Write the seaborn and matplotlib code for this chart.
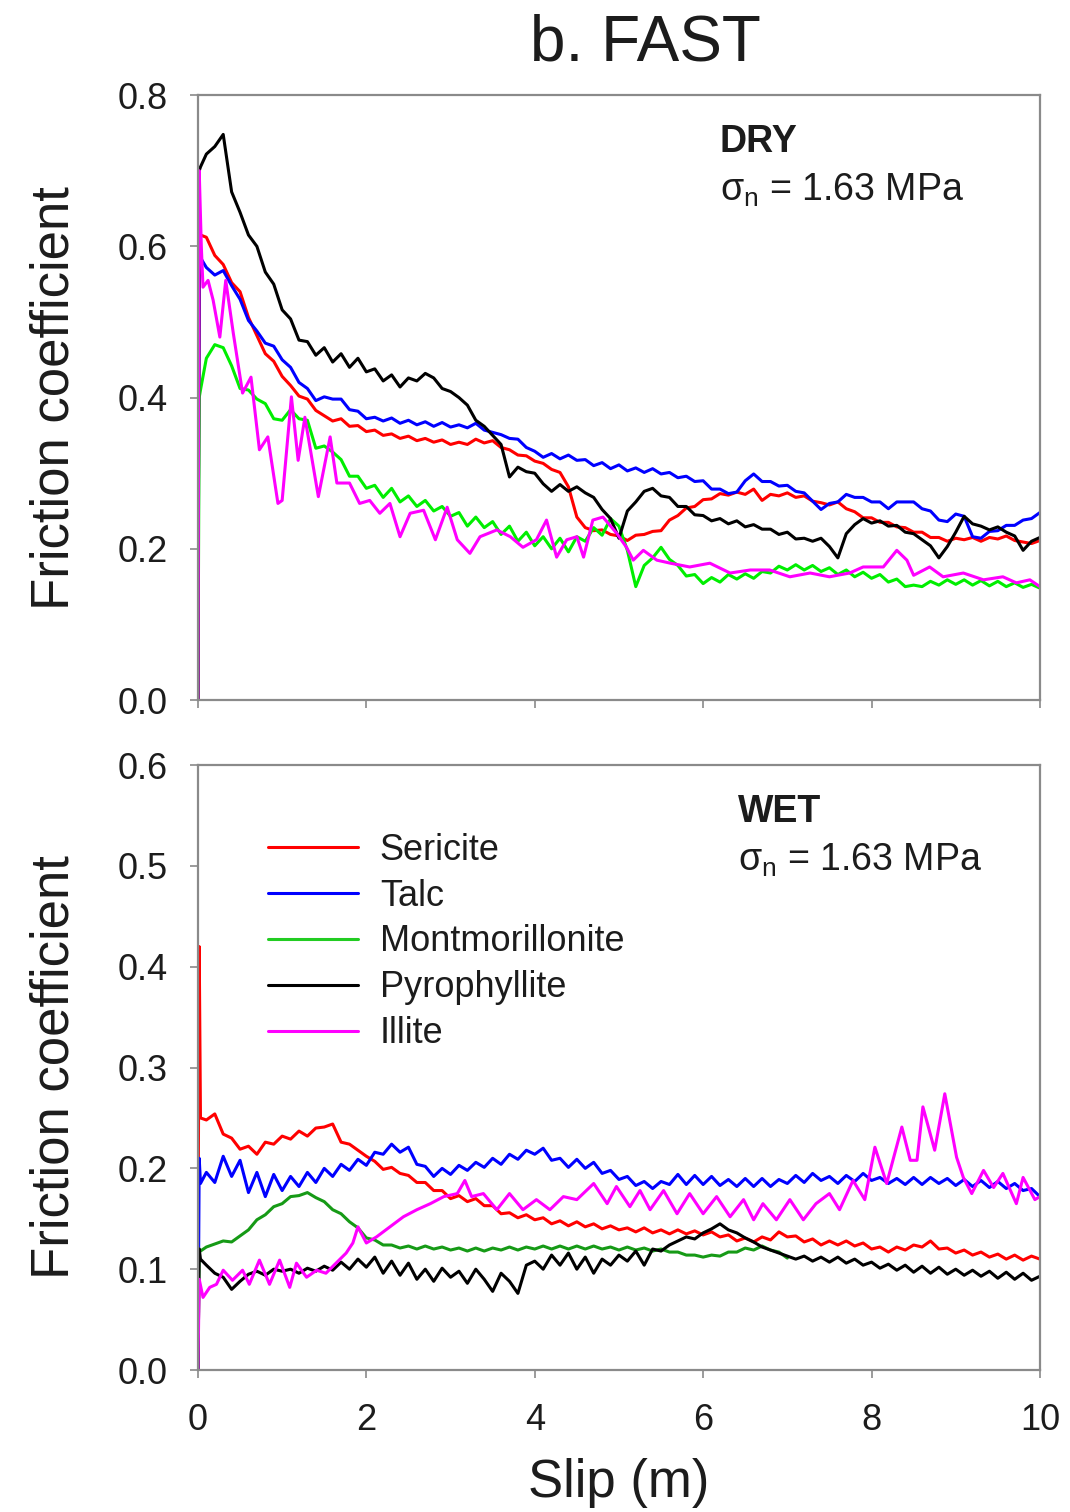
import numpy as np
import pandas as pd
import matplotlib
matplotlib.use("Agg")
import matplotlib.pyplot as plt
from matplotlib.lines import Line2D
from matplotlib.ticker import FormatStrFormatter
import seaborn as sns

# ---------------------------------------------------------------------------
# Data: friction coefficient vs. slip (m), fast slip tests
# ---------------------------------------------------------------------------
minerals = ["Sericite", "Talc", "Montmorillonite", "Pyrophyllite", "Illite"]

# shared slip grid for the densely sampled records
slip = [0.0, 0.015, 0.03] + [round(0.1 * i, 1) for i in range(1, 101)]

# ---- DRY, sigma_n = 1.63 MPa ----
dry_sericite = [
    0.0, 0.617, 0.615,
    0.612, 0.588, 0.576, 0.552, 0.540, 0.506, 0.482, 0.458, 0.448, 0.428,
    0.416, 0.402, 0.398, 0.383, 0.376, 0.369, 0.372, 0.362, 0.363, 0.355,
    0.357, 0.350, 0.352, 0.346, 0.349, 0.343, 0.346, 0.341, 0.344, 0.338,
    0.341, 0.338, 0.345, 0.340, 0.343, 0.334, 0.331, 0.324, 0.323, 0.316,
    0.313, 0.305, 0.301, 0.282, 0.242, 0.228, 0.224, 0.225, 0.219, 0.217,
    0.211, 0.218, 0.219, 0.223, 0.224, 0.238, 0.244, 0.254, 0.256, 0.265,
    0.266, 0.273, 0.271, 0.275, 0.272, 0.279, 0.264, 0.272, 0.270, 0.274,
    0.268, 0.270, 0.263, 0.261, 0.258, 0.262, 0.253, 0.249, 0.241, 0.241,
    0.235, 0.235, 0.229, 0.228, 0.222, 0.222, 0.215, 0.215, 0.210, 0.214,
    0.212, 0.215, 0.210, 0.215, 0.213, 0.217, 0.211, 0.209, 0.207, 0.211,
]
dry_talc = [
    0.0, 0.590, 0.585,
    0.572, 0.562, 0.568, 0.548, 0.530, 0.502, 0.488, 0.472, 0.468, 0.450,
    0.440, 0.420, 0.412, 0.396, 0.401, 0.398, 0.398, 0.384, 0.382, 0.372,
    0.374, 0.369, 0.373, 0.366, 0.370, 0.364, 0.368, 0.362, 0.367, 0.361,
    0.364, 0.360, 0.366, 0.357, 0.354, 0.351, 0.346, 0.345, 0.334, 0.329,
    0.321, 0.326, 0.319, 0.324, 0.317, 0.318, 0.310, 0.314, 0.306, 0.311,
    0.303, 0.307, 0.301, 0.306, 0.299, 0.301, 0.294, 0.296, 0.289, 0.290,
    0.279, 0.279, 0.273, 0.275, 0.290, 0.299, 0.289, 0.289, 0.283, 0.284,
    0.276, 0.274, 0.263, 0.252, 0.260, 0.262, 0.272, 0.268, 0.268, 0.262,
    0.262, 0.253, 0.262, 0.262, 0.262, 0.253, 0.250, 0.238, 0.236, 0.246,
    0.243, 0.216, 0.214, 0.223, 0.224, 0.231, 0.231, 0.238, 0.240, 0.248,
]
dry_montmorillonite = [
    0.0, 0.400, 0.410,
    0.452, 0.470, 0.466, 0.442, 0.412, 0.410, 0.398, 0.392, 0.372, 0.370,
    0.384, 0.372, 0.370, 0.333, 0.336, 0.328, 0.318, 0.296, 0.296, 0.280,
    0.284, 0.268, 0.280, 0.262, 0.270, 0.256, 0.264, 0.250, 0.256, 0.243,
    0.248, 0.230, 0.242, 0.228, 0.236, 0.219, 0.230, 0.210, 0.222, 0.204,
    0.216, 0.200, 0.214, 0.196, 0.216, 0.210, 0.228, 0.218, 0.240, 0.230,
    0.198, 0.150, 0.178, 0.188, 0.202, 0.186, 0.178, 0.164, 0.166, 0.154,
    0.162, 0.156, 0.166, 0.160, 0.167, 0.161, 0.170, 0.168, 0.177, 0.172,
    0.179, 0.172, 0.178, 0.170, 0.175, 0.166, 0.172, 0.163, 0.169, 0.161,
    0.166, 0.156, 0.160, 0.150, 0.152, 0.150, 0.157, 0.152, 0.159, 0.153,
    0.159, 0.152, 0.158, 0.151, 0.157, 0.150, 0.155, 0.149, 0.153, 0.148,
]
dry_pyrophyllite = [
    0.0, 0.700, 0.705,
    0.722, 0.732, 0.748, 0.672, 0.645, 0.615, 0.600, 0.566, 0.550, 0.516,
    0.504, 0.476, 0.474, 0.456, 0.466, 0.447, 0.458, 0.440, 0.452, 0.434,
    0.438, 0.422, 0.430, 0.414, 0.426, 0.422, 0.432, 0.426, 0.412, 0.408,
    0.400, 0.390, 0.370, 0.362, 0.350, 0.338, 0.295, 0.308, 0.302, 0.300,
    0.286, 0.276, 0.285, 0.276, 0.282, 0.274, 0.268, 0.252, 0.240, 0.214,
    0.250, 0.262, 0.276, 0.280, 0.270, 0.268, 0.256, 0.256, 0.245, 0.244,
    0.237, 0.240, 0.233, 0.237, 0.229, 0.232, 0.226, 0.226, 0.219, 0.222,
    0.213, 0.214, 0.210, 0.214, 0.203, 0.188, 0.220, 0.232, 0.240, 0.234,
    0.237, 0.230, 0.231, 0.222, 0.220, 0.212, 0.204, 0.188, 0.203, 0.222,
    0.243, 0.233, 0.230, 0.225, 0.229, 0.222, 0.217, 0.198, 0.210, 0.215,
]
# illite record is a coarse zig-zag, given at its turning points
dry_illite_slip = [
    0.0, 0.015, 0.04, 0.06, 0.12, 0.18, 0.26, 0.33, 0.42, 0.53,
    0.63, 0.73, 0.83, 0.95, 1.00, 1.11, 1.19, 1.27, 1.43, 1.57,
    1.65, 1.80, 1.92, 2.04, 2.16, 2.28, 2.40, 2.52, 2.68, 2.82,
    2.96, 3.08, 3.23, 3.35, 3.55, 3.71, 3.86, 4.02, 4.14, 4.26,
    4.38, 4.50, 4.58, 4.69, 4.81, 4.97, 5.09, 5.17, 5.29, 5.45,
    5.61, 5.84, 6.08, 6.32, 6.56, 6.79, 7.03, 7.27, 7.50, 7.74,
    7.90, 8.14, 8.30, 8.42, 8.50, 8.69, 8.85, 9.09, 9.33, 9.56,
    9.72, 9.88, 10.0,
]
dry_illite = [
    0.0, 0.700, 0.600, 0.546, 0.555, 0.529, 0.480, 0.555, 0.485, 0.406,
    0.427, 0.331, 0.348, 0.260, 0.264, 0.401, 0.317, 0.374, 0.269, 0.348,
    0.287, 0.287, 0.260, 0.264, 0.247, 0.260, 0.216, 0.247, 0.251, 0.212,
    0.255, 0.212, 0.194, 0.216, 0.225, 0.216, 0.202, 0.212, 0.238, 0.189,
    0.212, 0.216, 0.189, 0.238, 0.242, 0.221, 0.202, 0.185, 0.198, 0.185,
    0.181, 0.176, 0.181, 0.168, 0.172, 0.172, 0.163, 0.168, 0.163, 0.168,
    0.176, 0.176, 0.198, 0.185, 0.165, 0.176, 0.163, 0.168, 0.159, 0.163,
    0.155, 0.159, 0.150,
]

# ---- WET, sigma_n = 1.63 MPa ----
wet_sericite = [
    0.100, 0.420, 0.250,
    0.248, 0.254, 0.234, 0.230, 0.219, 0.222, 0.214, 0.226, 0.224, 0.232,
    0.229, 0.237, 0.232, 0.240, 0.241, 0.244, 0.226, 0.224, 0.218, 0.212,
    0.207, 0.199, 0.201, 0.195, 0.193, 0.186, 0.186, 0.178, 0.178, 0.170,
    0.173, 0.167, 0.170, 0.163, 0.163, 0.155, 0.156, 0.151, 0.154, 0.149,
    0.151, 0.145, 0.148, 0.143, 0.147, 0.142, 0.145, 0.140, 0.143, 0.139,
    0.141, 0.137, 0.141, 0.136, 0.139, 0.135, 0.139, 0.135, 0.138, 0.134,
    0.137, 0.132, 0.134, 0.128, 0.131, 0.127, 0.132, 0.129, 0.137, 0.132,
    0.133, 0.127, 0.130, 0.124, 0.128, 0.124, 0.128, 0.123, 0.126, 0.120,
    0.122, 0.117, 0.122, 0.119, 0.124, 0.122, 0.128, 0.120, 0.121, 0.116,
    0.119, 0.114, 0.117, 0.112, 0.115, 0.110, 0.114, 0.109, 0.113, 0.110,
]
wet_talc = [
    0.0, 0.210, 0.185,
    0.196, 0.186, 0.212, 0.192, 0.208, 0.176, 0.196, 0.172, 0.194, 0.178,
    0.192, 0.182, 0.196, 0.186, 0.200, 0.192, 0.204, 0.198, 0.209, 0.203,
    0.216, 0.214, 0.224, 0.216, 0.221, 0.204, 0.202, 0.192, 0.200, 0.194,
    0.203, 0.198, 0.206, 0.201, 0.210, 0.204, 0.214, 0.209, 0.218, 0.214,
    0.220, 0.208, 0.210, 0.201, 0.209, 0.200, 0.206, 0.195, 0.198, 0.189,
    0.192, 0.183, 0.187, 0.180, 0.187, 0.184, 0.194, 0.184, 0.193, 0.184,
    0.192, 0.183, 0.189, 0.182, 0.190, 0.182, 0.190, 0.182, 0.189, 0.185,
    0.193, 0.186, 0.195, 0.188, 0.192, 0.185, 0.193, 0.187, 0.195, 0.188,
    0.191, 0.185, 0.190, 0.184, 0.191, 0.184, 0.191, 0.185, 0.190, 0.183,
    0.189, 0.182, 0.188, 0.181, 0.187, 0.180, 0.185, 0.178, 0.180, 0.172,
]
wet_montmorillonite = [
    0.0, 0.120, 0.118,
    0.122, 0.125, 0.128, 0.127, 0.133, 0.139, 0.149, 0.154, 0.162, 0.165,
    0.172, 0.173, 0.176, 0.171, 0.167, 0.159, 0.155, 0.147, 0.141, 0.131,
    0.129, 0.124, 0.124, 0.121, 0.123, 0.120, 0.123, 0.120, 0.122, 0.119,
    0.121, 0.118, 0.121, 0.118, 0.121, 0.119, 0.122, 0.119, 0.122, 0.120,
    0.123, 0.120, 0.123, 0.120, 0.123, 0.120, 0.123, 0.120, 0.122, 0.119,
    0.122, 0.119, 0.121, 0.118, 0.120, 0.117, 0.117, 0.114, 0.114, 0.112,
    0.114, 0.113, 0.117, 0.117, 0.121, 0.119, 0.123, 0.119, 0.117, 0.111,
] + [np.nan] * 30
wet_pyrophyllite = [
    0.0, 0.120, 0.110,
    0.104, 0.096, 0.092, 0.080, 0.088, 0.095, 0.098, 0.094, 0.100, 0.098,
    0.100, 0.096, 0.101, 0.098, 0.103, 0.099, 0.107, 0.100, 0.110, 0.102,
    0.112, 0.096, 0.108, 0.094, 0.106, 0.090, 0.100, 0.088, 0.101, 0.092,
    0.098, 0.086, 0.100, 0.090, 0.078, 0.096, 0.088, 0.076, 0.104, 0.108,
    0.100, 0.114, 0.104, 0.116, 0.100, 0.112, 0.096, 0.110, 0.104, 0.114,
    0.108, 0.118, 0.104, 0.120, 0.118, 0.124, 0.128, 0.132, 0.130, 0.136,
    0.140, 0.145, 0.139, 0.136, 0.131, 0.127, 0.122, 0.119, 0.116, 0.113,
    0.110, 0.113, 0.108, 0.112, 0.107, 0.112, 0.106, 0.110, 0.104, 0.107,
    0.101, 0.105, 0.099, 0.104, 0.097, 0.103, 0.096, 0.102, 0.095, 0.100,
    0.094, 0.099, 0.093, 0.098, 0.091, 0.097, 0.090, 0.096, 0.089, 0.093,
]
wet_illite_slip = [
    0.0, 0.015, 0.06, 0.14, 0.22, 0.30, 0.41, 0.53, 0.61, 0.73,
    0.85, 0.97, 1.09, 1.17, 1.29, 1.41, 1.52, 1.64, 1.76, 1.84,
    1.90, 2.00, 2.12, 2.28, 2.44, 2.60, 2.76, 2.92, 3.08, 3.17,
    3.25, 3.39, 3.55, 3.70, 3.86, 4.02, 4.18, 4.34, 4.50, 4.70,
    4.86, 4.97, 5.13, 5.25, 5.37, 5.53, 5.69, 5.84, 6.00, 6.16,
    6.32, 6.48, 6.60, 6.71, 6.87, 7.03, 7.19, 7.34, 7.50, 7.62,
    7.78, 7.92, 8.04, 8.18, 8.36, 8.46, 8.54, 8.61, 8.75, 8.87,
    9.01, 9.09, 9.19, 9.33, 9.45, 9.56, 9.72, 9.80, 9.94, 10.0,
]
wet_illite = [
    0.0, 0.090, 0.072, 0.082, 0.085, 0.099, 0.089, 0.099, 0.085, 0.109,
    0.085, 0.109, 0.082, 0.106, 0.092, 0.099, 0.096, 0.106, 0.116, 0.126,
    0.142, 0.126, 0.132, 0.142, 0.152, 0.159, 0.165, 0.172, 0.175, 0.188,
    0.172, 0.175, 0.159, 0.175, 0.159, 0.169, 0.159, 0.172, 0.169, 0.185,
    0.165, 0.182, 0.162, 0.178, 0.159, 0.178, 0.155, 0.175, 0.155, 0.172,
    0.152, 0.169, 0.149, 0.165, 0.149, 0.169, 0.149, 0.165, 0.175, 0.159,
    0.188, 0.169, 0.221, 0.185, 0.241, 0.208, 0.208, 0.261, 0.218, 0.274,
    0.211, 0.191, 0.175, 0.198, 0.181, 0.195, 0.165, 0.191, 0.169, 0.172,
]


def long_table(records):
    frames = [pd.DataFrame({"slip": x, "mu": y, "mineral": name})
              for name, x, y in records]
    return pd.concat(frames, ignore_index=True).dropna()


dry = long_table([
    ("Sericite", slip, dry_sericite),
    ("Talc", slip, dry_talc),
    ("Montmorillonite", slip, dry_montmorillonite),
    ("Pyrophyllite", slip, dry_pyrophyllite),
    ("Illite", dry_illite_slip, dry_illite),
])
wet = long_table([
    ("Sericite", slip, wet_sericite),
    ("Talc", slip, wet_talc),
    ("Montmorillonite", slip, wet_montmorillonite),
    ("Pyrophyllite", slip, wet_pyrophyllite),
    ("Illite", wet_illite_slip, wet_illite),
])

dry_colors = {"Sericite": "#ff0000", "Talc": "#0000ff", "Montmorillonite": "#00ee00",
              "Pyrophyllite": "#000000", "Illite": "#ff00ff"}
wet_colors = dict(dry_colors, Montmorillonite="#169a16")
legend_colors = dict(dry_colors, Montmorillonite="#22cc22")

# ---------------------------------------------------------------------------
# Styling
# ---------------------------------------------------------------------------
sns.set_theme(style="ticks")
plt.rcParams["font.family"] = ["Liberation Sans", "DejaVu Sans"]
plt.rcParams["mathtext.fontset"] = "custom"
plt.rcParams["mathtext.rm"] = "Liberation Sans"
plt.rcParams["mathtext.it"] = "Liberation Sans"
plt.rcParams["mathtext.sf"] = "Liberation Sans"

SPINE = "#8a8a8a"
TEXT = "#1c1c1c"
LW = 2.2

fig = plt.figure(figsize=(10.70, 15.12), dpi=100)
fig.patch.set_facecolor("white")
ax1 = fig.add_axes([0.1850, 0.5370, 0.7869, 0.4001])
ax2 = fig.add_axes([0.1850, 0.0939, 0.7869, 0.4001])

for ax, data, pal in ((ax1, dry, dry_colors), (ax2, wet, wet_colors)):
    sns.lineplot(data=data, x="slip", y="mu", hue="mineral", hue_order=minerals,
                 palette=pal, estimator=None, sort=False, linewidth=LW,
                 legend=False, ax=ax)
    ax.set_xlim(0, 10)
    ax.set_xticks(range(0, 11, 2))
    ax.yaxis.set_major_formatter(FormatStrFormatter("%.1f"))
    for s in ax.spines.values():
        s.set_color(SPINE)
        s.set_linewidth(1.6)
        s.set_visible(True)
    ax.tick_params(axis="both", direction="out", length=6, width=1.2,
                   color=SPINE, labelcolor=TEXT, labelsize=26)
    ax.tick_params(axis="y", pad=16)
    ax.tick_params(axis="x", pad=18)
    ax.set_ylabel("Friction coefficient", fontsize=38, color=TEXT)
    ax.yaxis.set_label_coords(-0.141, 0.5)
    ax.set_facecolor("white")

ax1.set_ylim(0, 0.8)
ax1.set_yticks([0.0, 0.2, 0.4, 0.6, 0.8])
ax1.tick_params(axis="x", labelbottom=False)
ax1.set_xlabel("")

ax2.set_ylim(0, 0.6)
ax2.set_yticks([0.0, 0.1, 0.2, 0.3, 0.4, 0.5, 0.6])
ax2.set_xlabel("Slip (m)", fontsize=38, color=TEXT)
ax2.xaxis.set_label_coords(0.5, -0.145)

# condition annotations
ax1.text(0.620, 0.922, "DRY", transform=ax1.transAxes, fontsize=27,
         fontweight="bold", color=TEXT, va="center", ha="left")
ax1.text(0.620, 0.842, r"$\sigma_{\mathrm{n}}$ = 1.63 MPa", transform=ax1.transAxes,
         fontsize=27, color=TEXT, va="center", ha="left")
ax2.text(0.641, 0.922, "WET", transform=ax2.transAxes, fontsize=27,
         fontweight="bold", color=TEXT, va="center", ha="left")
ax2.text(0.641, 0.842, r"$\sigma_{\mathrm{n}}$ = 1.63 MPa", transform=ax2.transAxes,
         fontsize=27, color=TEXT, va="center", ha="left")

handles = [Line2D([], [], color=legend_colors[m], lw=LW) for m in minerals]
leg = ax2.legend(handles, minerals, loc="upper left", bbox_to_anchor=(0.083, 0.888),
                 frameon=False, fontsize=26, handlelength=2.5, handletextpad=0.6,
                 labelspacing=0.3, borderaxespad=0, borderpad=0)
for t in leg.get_texts():
    t.set_color(TEXT)

fig.text(0.6028, 0.9715, "b. FAST", ha="center", va="center", fontsize=46, color=TEXT)

fig.savefig("out.png", dpi=100, facecolor="white")
